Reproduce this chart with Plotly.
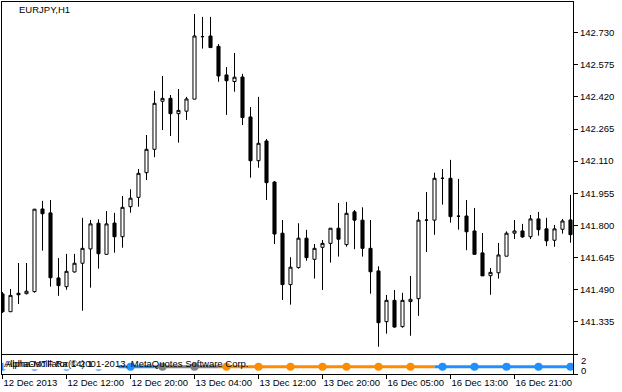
import plotly.graph_objects as go

# ---------------- data ----------------
bars = list(range(72))

open_ = [141.469, 141.383, 141.472, 141.470, 141.480, 141.879, 141.860, 141.546, 141.504, 141.575,
         141.617, 141.686, 141.810, 141.660, 141.811, 141.745, 141.890, 141.935, 142.054, 142.167,
         142.399, 142.413, 142.339, 142.351, 142.409, 142.711, 142.714, 142.664, 142.526, 142.494,
         142.516, 142.323, 142.112, 142.207, 142.009, 141.762, 141.514, 141.596, 141.738, 141.636,
         141.694, 141.713, 141.786, 141.707, 141.865, 141.825, 141.689, 141.580, 141.335, 141.438,
         141.311, 141.432, 141.446, 141.825, 141.825, 142.027, 142.027, 141.844, 141.845, 141.773,
         141.667, 141.557, 141.571, 141.651, 141.762, 141.773, 141.745, 141.831, 141.783, 141.728,
         141.781, 141.826]
high = [141.478, 141.493, 141.618, 141.618, 141.878, 141.918, 141.922, 141.642, 141.662, 141.662,
        141.836, 141.826, 141.829, 141.869, 141.860, 141.942, 141.974, 142.072, 142.236, 142.449,
        142.521, 142.429, 142.458, 142.420, 142.820, 142.806, 142.806, 142.675, 142.564, 142.632,
        142.531, 142.371, 142.420, 142.217, 142.014, 141.826, 141.646, 141.810, 141.778, 141.710,
        141.729, 141.786, 141.908, 141.913, 141.874, 141.887, 141.826, 141.602, 141.464, 141.488,
        141.474, 141.556, 141.865, 141.961, 142.054, 142.072, 142.116, 142.024, 141.922, 141.884,
        141.763, 141.594, 141.715, 141.771, 141.826, 141.807, 141.850, 141.865, 141.836, 141.802,
        141.831, 141.947]
low = [141.377, 141.382, 141.420, 141.467, 141.475, 141.678, 141.504, 141.460, 141.489, 141.572,
       141.388, 141.499, 141.591, 141.660, 141.668, 141.692, 141.861, 141.890, 142.019, 142.129,
       142.260, 142.231, 142.199, 142.309, 142.409, 142.653, 142.658, 142.493, 142.333, 142.445,
       142.284, 142.030, 142.078, 141.922, 141.710, 141.440, 141.417, 141.591, 141.629, 141.543,
       141.488, 141.620, 141.649, 141.697, 141.685, 141.649, 141.470, 141.214, 141.277, 141.306,
       141.306, 141.267, 141.363, 141.671, 141.754, 141.900, 141.813, 141.779, 141.680, 141.660,
       141.556, 141.465, 141.543, 141.651, 141.734, 141.740, 141.734, 141.750, 141.700, 141.697,
       141.760, 141.716]
close = [141.383, 141.462, 141.465, 141.482, 141.878, 141.856, 141.547, 141.509, 141.578, 141.617,
         141.689, 141.807, 141.663, 141.807, 141.745, 141.887, 141.931, 142.051, 142.167, 142.389,
         142.413, 142.339, 142.355, 142.410, 142.714, 142.711, 142.658, 142.521, 142.498, 142.515,
         142.320, 142.112, 142.196, 142.006, 141.758, 141.514, 141.598, 141.738, 141.644, 141.689,
         141.713, 141.786, 141.733, 141.858, 141.825, 141.689, 141.576, 141.330, 141.438, 141.309,
         141.438, 141.443, 141.825, 141.825, 142.027, 142.027, 141.842, 141.844, 141.769, 141.660,
         141.556, 141.573, 141.657, 141.762, 141.773, 141.744, 141.831, 141.779, 141.725, 141.783,
         141.821, 141.755]

price_ticks = [141.335, 141.490, 141.645, 141.800, 141.955, 142.110, 142.265, 142.420, 142.575, 142.730]

time_tick_bars = [0, 8, 16, 24, 32, 40, 48, 56, 64]
time_tick_labels = ["12 Dec 2013", "12 Dec 12:00", "12 Dec 20:00", "13 Dec 04:00", "13 Dec 12:00",
                    "13 Dec 20:00", "16 Dec 05:00", "16 Dec 13:00", "16 Dec 21:00"]

# sub-window indicator: trend state per bar (1 up, 0 flat, -1 down), level, H4 bar starts
trend_state = [1, 1, 1, 1, 1, 1, 1, 1, 1, 1, 1, 1, 1, 1, 1, 1, 1, 1, 1, 1,
               0, 0, 0, 0, 0, 0, 0, 0,
               -1, -1, -1, -1, -1, -1, -1, -1, -1, -1, -1, -1, -1, -1, -1, -1, -1, -1, -1, -1, -1,
               -1, -1, -1, -1, -1, -1,
               1, 1, 1, 1, 1, 1, 1, 1, 1, 1, 1, 1, 1, 1, 1, 1, 1]
signal_level = 1.0
h4_bars = [0, 4, 8, 12, 16, 20, 24, 28, 32, 36, 40, 43, 47, 51, 55, 59, 63, 67, 71]

state_colors = {1: "#1E90FF", 0: "#808080", -1: "#FF8C00"}

# ---------------- figure ----------------
FONT = "Liberation Sans, Arial, sans-serif"
fig = go.Figure()

fig.add_trace(go.Candlestick(
    x=bars, open=open_, high=high, low=low, close=close,
    xaxis="x", yaxis="y",
    increasing=dict(line=dict(color="black", width=1), fillcolor="white"),
    decreasing=dict(line=dict(color="black", width=1), fillcolor="black"),
    whiskerwidth=0, showlegend=False, hoverinfo="skip",
))

# colored line runs
runs = []
start = 0
for i in range(1, len(trend_state) + 1):
    if i == len(trend_state) or trend_state[i] != trend_state[start]:
        runs.append((start, i - 1, trend_state[start]))
        start = i
for s, e, st in runs:
    xs = list(range(max(s - 1, 0), e + 1))
    fig.add_trace(go.Scatter(
        x=xs, y=[signal_level for _ in xs], mode="lines",
        line=dict(color=state_colors[st], width=3),
        xaxis="x2", yaxis="y2", showlegend=False, hoverinfo="skip",
    ))

fig.add_trace(go.Scatter(
    x=h4_bars, y=[signal_level for _ in h4_bars], mode="markers",
    marker=dict(size=8, color=[state_colors[trend_state[b]] for b in h4_bars], line=dict(width=0)),
    xaxis="x2", yaxis="y2", showlegend=False, hoverinfo="skip",
))

xr = [-0.0625, 71.3125]
axis_common = dict(showline=True, mirror=True, linecolor="black", linewidth=1,
                   showgrid=False, zeroline=False, automargin=False)

fig.update_layout(
    width=622, height=392,
    margin=dict(l=2, r=49, t=2, b=18, autoexpand=False),
    paper_bgcolor="white", plot_bgcolor="white",
    boxgap=0.45, showlegend=False,
    font=dict(family=FONT, size=9.5, color="black"),
    xaxis=dict(domain=[0, 1], anchor="y", range=xr, showticklabels=False, ticks="",
               rangeslider=dict(visible=False), **axis_common),
    yaxis=dict(domain=[0.0538, 1], anchor="x", side="right", range=[141.179, 142.878],
               tickvals=price_ticks, ticktext=[f"{v:.3f}" for v in price_ticks],
               ticks="outside", ticklen=4, tickcolor="black", **axis_common),
    xaxis2=dict(domain=[0, 1], anchor="y2", range=xr, tickvals=time_tick_bars,
                ticktext=time_tick_labels, ticks="outside", ticklen=4, tickcolor="black",
                tickangle=0, ticklabelposition="outside right", **axis_common),
    yaxis2=dict(domain=[0, 0.0511], anchor="x2", side="right", range=[0, 2.6],
                tickvals=[0, 2.6], ticks="outside", ticklen=4, tickcolor="black",
                showticklabels=False, **axis_common),
)

annotations = [
    dict(text="EURJPY,H1", x=15 / 571, y=(374 - 10) / 372, xref="paper", yref="paper",
         xanchor="left", yanchor="middle", showarrow=False, font=dict(family=FONT, size=9.5)),
    dict(text="AlphaOscillator(14) 1", x=0.5 / 571, y=(374 - 363.5) / 372, xref="paper", yref="paper",
         xanchor="left", yanchor="middle", showarrow=False, align="left", width=114,
         bgcolor="white", borderpad=0, font=dict(family=FONT, size=9.5)),
    dict(text="Alpha-MTF Ra © 2001-2013, MetaQuotes Software Corp.", x=2 / 571,
         y=(374 - 363.5) / 372, xref="paper", yref="paper", xanchor="left", yanchor="middle",
         showarrow=False, font=dict(family=FONT, size=9.5)),
    dict(text="2", x=(579 - 2) / 571, y=(374 - 360) / 372, xref="paper", yref="paper",
         xanchor="left", yanchor="middle", showarrow=False, font=dict(family=FONT, size=9.5)),
    dict(text="0", x=(579 - 2) / 571, y=(374 - 370) / 372, xref="paper", yref="paper",
         xanchor="left", yanchor="middle", showarrow=False, font=dict(family=FONT, size=9.5)),
]
fig.update_layout(annotations=annotations)

fig.write_html("out.html")
